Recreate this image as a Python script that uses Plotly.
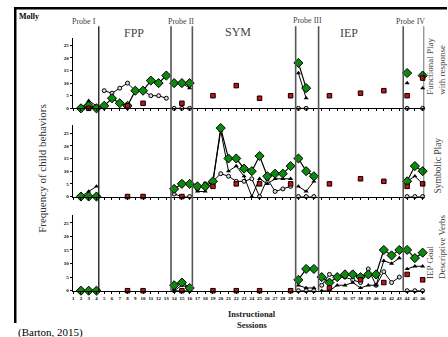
import plotly.graph_objects as go

W, H = 448, 337
N = None

# Sessions 1-46; phases: Probe I (1-4), FPP (5-13), Probe II (14-16),
# SYM (17-29), Probe III (30-32), IEP (33-43), Probe IV (44-46)
sessions = list(range(1, 47))
phase_starts = [1, 5, 14, 17, 30, 33, 44]
phase_lines = [4.3, 13.6, 16.35, 29.65, 32.6, 43.5]
end_line = 46.2

# Functional Play with response
green_fp = [N, 0, 1, 0] + [1, 4, 2, 1, 7, 7, 11, 10, 13] + [10, 10, 10] + [N] * 13 + [18, 8, N] + [N] * 11 + [14, N, 13]
tri_fp = [N, 0, 3, 1] + [N] * 9 + [10, 10, 8] + [N] * 13 + [14, 4, N] + [N] * 11 + [10, N, 8]
circ_fp = [N] * 4 + [7, 6, 8, 10, 7, 7, 5, 5, 4] + [0, 0, 0] + [N] * 13 + [0, 0, N] + [N] * 11 + [0, N, 0]
red_fp = [N, N, 0, N] + [N, N, N, 1, N, 2, N, N, N] + [N, 2, N] + [N, N, 5, N, N, 9, N, N, 4, N, N, N, 5] + [N, N, N] + [N, 5, N, N, N, 6, N, N, 7, N, N] + [5, N, 12]

# Symbolic Play
green_sp = [N, 0, 0, 0] + [N] * 9 + [3, 5, 5] + [4, 4, 6, 27, 15, 15, 11, 10, 16, 8, 9, 9, 12] + [15, 10, 8] + [N] * 11 + [6, 12, 10]
tri_sp = [N, 0, 2, 4] + [N] * 9 + [N, N, N] + [2, 2, 6, 26, 10, 12, 8, 0, 7, 5, 7, 7, 7] + [4, 2, 6] + [N] * 11 + [6, 8, 5]
circ_sp = [N] * 4 + [N] * 9 + [1, 0, 0] + [3, 5, 6, 9, 8, 6, 6, 7, 0, 7, 2, 3, 4] + [0, 0, 0] + [N] * 11 + [0, 0, 0]
red_sp = [N] * 4 + [N, N, N, 0, N, 0, N, N, N] + [N, 0, N] + [N, N, 4, N, N, 5, N, N, 5, N, N, N, 5] + [N, N, N] + [N, 5, N, N, N, 7, N, N, 6, N, N] + [4, N, 5]

# IEP Goal: Descriptive Verbs
green_iep = [N, 0, 0, 0] + [N] * 9 + [2, 3, 1] + [N] * 13 + [4, 8, 8] + [5, 3, 5, 6, 6, 5, 6, 6, 15, 13, 15] + [15, 12, 14]
tri_iep = [N] * 4 + [N] * 9 + [0, 2, 1] + [N] * 13 + [2, 1, 1] + [0, 0, 2, 2, 3, 1, 2, 2, 11, 10, 12] + [8, 9, 9]
circ_iep = [N] * 4 + [N] * 9 + [0, 0, 0] + [N] * 13 + [0, 0, 0] + [2, 6, 5, 5, 4, 3, 8, 2, 7, 3, 5] + [0, 0, 0]
red_iep = [N] * 4 + [N, N, N, 0, N, 0, N, N, N] + [N, 0, N] + [N, N, 0, N, N, 0, N, N, 0, N, N, N, 0] + [N, N, N] + [N, 1, N, N, N, 4, N, N, 3, N, N] + [6, N, 4]

y_ticks = [0, 5, 10, 15, 20, 25]

SERIF = "Liberation Serif"


def px(x):
    return x / W


def py(y):
    return 1 - y / H


def split_phases(vals):
    xs, ys = [], []
    for s, v in zip(sessions, vals):
        if s in phase_starts[1:]:
            xs.append(None)
            ys.append(None)
        xs.append(s)
        ys.append(v)
    return xs, ys


# (series, zero-line pixel row, pixels per unit)
panels = [
    (green_fp, tri_fp, circ_fp, red_fp, 109.3, 2.544),
    (green_sp, tri_sp, circ_sp, red_sp, 198.3, 2.56),
    (green_iep, tri_iep, circ_iep, red_iep, 293.3, 2.74),
]

Y_TOP = 28
x_dom = [px(72.1), px(425.1)]

fig = go.Figure()
layout_axes = {}
for i, (g, t, c, r, zero, ppu) in enumerate(panels):
    sfx = "" if i == 0 else str(i + 1)
    xref, yref = "x" + sfx, "y" + sfx
    top = zero - Y_TOP * ppu

    cx, cy = split_phases(c)
    fig.add_trace(go.Scatter(x=cx, y=cy, xaxis=xref, yaxis=yref, mode="lines+markers",
                             line=dict(color="black", width=1),
                             marker=dict(symbol="circle", size=4, color="#d9d9d9",
                                         line=dict(color="black", width=1)),
                             cliponaxis=False, connectgaps=False, showlegend=False))
    tx, ty = split_phases(t)
    fig.add_trace(go.Scatter(x=tx, y=ty, xaxis=xref, yaxis=yref, mode="lines+markers",
                             line=dict(color="black", width=1),
                             marker=dict(symbol="triangle-up", size=4.5, color="black"),
                             cliponaxis=False, connectgaps=False, showlegend=False))
    gx, gy = split_phases(g)
    fig.add_trace(go.Scatter(x=gx, y=gy, xaxis=xref, yaxis=yref, mode="lines+markers",
                             line=dict(color="black", width=1.2),
                             marker=dict(symbol="diamond", size=7, color="#0b8a0b",
                                         line=dict(color="black", width=1)),
                             cliponaxis=False, connectgaps=False, showlegend=False))
    fig.add_trace(go.Scatter(x=sessions, y=r, xaxis=xref, yaxis=yref, mode="markers",
                             marker=dict(symbol="square", size=4.5, color="#cc1010",
                                         line=dict(color="black", width=1)),
                             cliponaxis=False, showlegend=False))

    layout_axes["xaxis" + sfx] = dict(
        domain=x_dom, range=[0.95, end_line], anchor=yref,
        showline=True, linecolor="black", linewidth=1,
        ticks="outside", ticklen=2, tickwidth=1, tickcolor="black",
        tickmode="array", tickvals=sessions, showticklabels=(i == 2),
        tickfont=dict(family=SERIF, size=5, color="black", weight="bold"),
        showgrid=False, zeroline=False)
    layout_axes["yaxis" + sfx] = dict(
        domain=[py(zero), py(top)], range=[0, Y_TOP], anchor=xref,
        showline=True, linecolor="black", linewidth=1,
        ticks="outside", ticklen=2, tickwidth=1, tickcolor="black",
        tickmode="array", tickvals=y_ticks,
        tickfont=dict(family=SERIF, size=5, color="black", weight="bold"),
        showgrid=False, zeroline=False)

shapes = []
for k, xv in enumerate(phase_lines):
    shapes.append(dict(type="line", xref="x", yref="paper", x0=xv, x1=xv,
                       y0=py(293.3), y1=py(26.5),
                       line=dict(color="black" if k == 0 else "#555555", width=1.2 if k == 0 else 1.6)))
shapes.append(dict(type="line", xref="x", yref="paper", x0=end_line, x1=end_line,
                   y0=py(198.3), y1=py(26.5), line=dict(color="black", width=1.2)))
# frame
shapes.append(dict(type="line", xref="paper", yref="paper", x0=px(13), x1=1,
                   y0=py(8.2), y1=py(8.2), line=dict(color="black", width=2.5)))
shapes.append(dict(type="line", xref="paper", yref="paper", x0=px(14.3), x1=px(14.3),
                   y0=py(326), y1=py(7), line=dict(color="black", width=2.5)))


def ann(text, x, y, size, color="#444444", bold=False, angle=0, xa="center", ya="middle", align="center"):
    return dict(text=text, x=px(x), y=py(y), xref="paper", yref="paper", showarrow=False,
                xanchor=xa, yanchor=ya, textangle=angle, align=align,
                font=dict(family=SERIF, size=size, color=color, weight="bold" if bold else "normal"))


annotations = [
    ann("Molly", 28.5, 16.5, 8, color="black", bold=True),
    ann("Probe I", 83, 21.5, 8),
    ann("FPP", 133.5, 33, 12),
    ann("Probe II", 181, 21.5, 8),
    ann("SYM", 238.5, 32.5, 12),
    ann("Probe III", 308, 20.5, 8),
    ann("IEP", 349.5, 33, 12),
    ann("Probe IV", 411, 22, 8),
    ann("Frequency of child behaviors", 41.5, 170, 11, color="#333333", angle=-90),
    ann("Functional Play<br>with response", 437, 98, 9, angle=-90, ya="bottom", align="left"),
    ann("Symbolic Play", 438, 167, 9.5, angle=-90),
    ann("IEP Goal<br>Descriptive Verbs", 437, 284, 9, angle=-90, ya="bottom", align="left"),
    ann("Instructional", 252.5, 317, 8.5, color="#222222", bold=True),
    ann("Sessions", 252.5, 328, 8.5, color="#222222", bold=True),
    ann("(Barton, 2015)", 15, 327, 11, color="black", xa="left", ya="top"),
]

fig.update_layout(
    width=W, height=H, margin=dict(l=0, r=0, t=0, b=0),
    paper_bgcolor="white", plot_bgcolor="white",
    shapes=shapes, annotations=annotations, showlegend=False,
    **layout_axes,
)

fig.write_html("out.html")
